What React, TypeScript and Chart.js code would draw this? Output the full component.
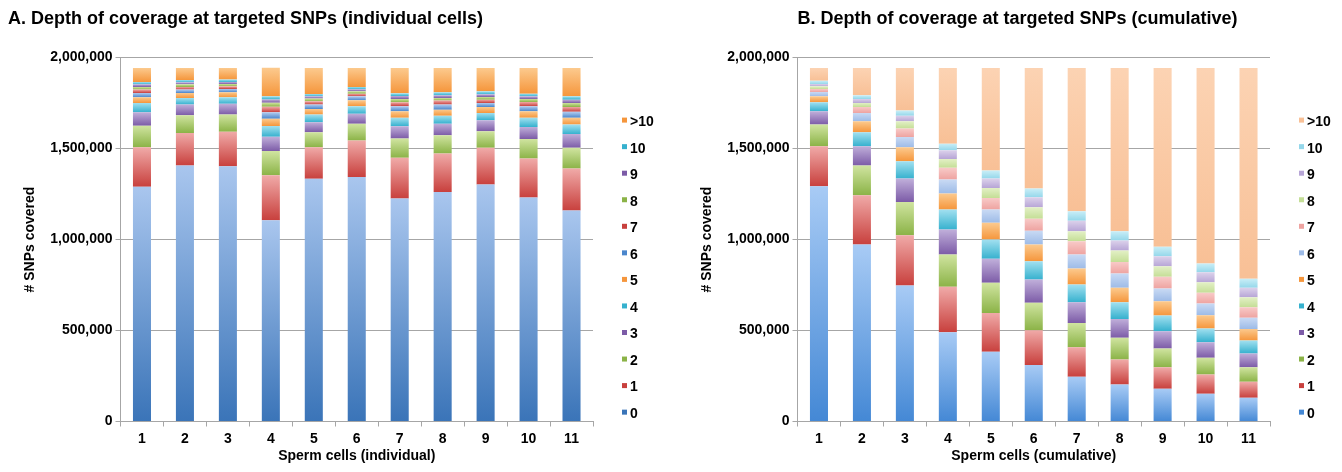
import React, { useEffect, useRef } from "react";
import { Chart, registerables } from "chart.js";

Chart.register(...registerables);

const FONT = '"Liberation Sans", Arial, Helvetica, sans-serif';

const cells = ["1", "2", "3", "4", "5", "6", "7", "8", "9", "10", "11"];
const depthLabels = ["0", "1", "2", "3", "4", "5", "6", "7", "8", "9", "10", ">10"];
const yTicks = [0, 500000, 1000000, 1500000, 2000000];

// A. individual cells: SNPs covered at each depth
const indD0 = [1290000, 1407000, 1403000, 1106000, 1334000, 1344000, 1225000, 1262000, 1302000, 1231000, 1159000];
const indD1 = [217000, 179000, 189000, 247000, 173000, 200000, 224000, 211000, 202000, 214000, 231000];
const indD2 = [119000, 97000, 95000, 133000, 83000, 93000, 106000, 100000, 91000, 108000, 114000];
const indD3 = [73000, 59000, 59000, 79000, 55000, 54000, 68000, 64000, 61000, 66000, 76000];
const indD4 = [52000, 36000, 36000, 59000, 42000, 42000, 46000, 44000, 40000, 50000, 52000];
const indD5 = [31000, 28000, 28000, 40000, 31000, 32000, 36000, 33000, 33000, 36000, 37000];
const indD6 = [24000, 18000, 18000, 36000, 24000, 22000, 28000, 28000, 22000, 28000, 33000];
const indD7 = [18000, 15000, 14000, 30000, 18000, 15000, 22000, 22000, 18000, 23000, 27000];
const indD8 = [15000, 14000, 13000, 22000, 15000, 13000, 18000, 14000, 15000, 17000, 22000];
const indD9 = [14000, 11000, 11000, 18000, 12000, 11000, 16000, 15000, 14000, 14000, 18000];
const indD10 = [13000, 13000, 13000, 18000, 13000, 13000, 15000, 17000, 17000, 15000, 18000];
const indGt10 = [77000, 66000, 64000, 156000, 143000, 104000, 139000, 133000, 128000, 141000, 156000];

// B. cumulative
const cumD0 = [1293000, 973000, 747000, 491000, 383000, 311000, 246000, 203000, 180000, 152000, 130000];
const cumD1 = [220000, 271000, 277000, 249000, 214000, 191000, 162000, 138000, 118000, 106000, 88000];
const cumD2 = [119000, 163000, 183000, 178000, 165000, 150000, 134000, 119000, 103000, 92000, 80000];
const cumD3 = [73000, 106000, 128000, 137000, 132000, 128000, 113000, 104000, 95000, 86000, 76000];
const cumD4 = [50000, 77000, 95000, 110000, 106000, 101000, 98000, 91000, 86000, 75000, 71000];
const cumD5 = [32000, 60000, 77000, 88000, 92000, 92000, 88000, 80000, 79000, 73000, 64000];
const cumD6 = [24000, 46000, 57000, 77000, 73000, 76000, 77000, 78000, 70000, 64000, 61000];
const cumD7 = [17000, 33000, 46000, 64000, 64000, 66000, 73000, 64000, 64000, 59000, 58000];
const cumD8 = [14000, 22000, 40000, 49000, 55000, 62000, 55000, 63000, 58000, 58000, 55000];
const cumD9 = [13000, 22000, 31000, 48000, 51000, 55000, 58000, 55000, 55000, 55000, 52000];
const cumD10 = [18000, 20000, 28000, 36000, 44000, 48000, 52000, 51000, 52000, 48000, 49000];
const cumGt10 = [70000, 150000, 234000, 416000, 564000, 663000, 787000, 897000, 983000, 1075000, 1159000];

const indSeries = [indD0, indD1, indD2, indD3, indD4, indD5, indD6, indD7, indD8, indD9, indD10, indGt10];
const cumSeries = [cumD0, cumD1, cumD2, cumD3, cumD4, cumD5, cumD6, cumD7, cumD8, cumD9, cumD10, cumGt10];

// [light top, dark bottom]
const strongRest: [string, string][] = [
  ["#f0aaa8", "#c8403d"],
  ["#d0e4a0", "#8bb347"],
  ["#c0afda", "#7c5ba7"],
  ["#a2e0f0", "#36b1ce"],
  ["#fcca8e", "#f5963c"],
];
const blueInd: [string, string] = ["#a9c6ee", "#3a74b8"];
const blueCum: [string, string] = ["#a8cbf5", "#4488d5"];
const pale: [string, string][] = [
  ["#c9daf4", "#9dbbe7"],
  ["#f8cac8", "#eea3a0"],
  ["#e3f0c6", "#c4de96"],
  ["#dcd2eb", "#b7a5d6"],
  ["#c9eef7", "#94d7ea"],
  ["#fcd3b3", "#f8c096"],
];
const indColors: [string, string][] = [blueInd, ...strongRest, ["#b3cdf0", "#4a86cc"], ...strongRest];
const cumColors: [string, string][] = [blueCum, ...strongRest, ...pale];

function gradient(light: string, dark: string) {
  return (ctx: any) => {
    const chart = ctx.chart;
    const y = chart.scales && chart.scales.y;
    if (!y || ctx.type !== "data") return dark;
    const ds = chart.data.datasets;
    const i = ctx.dataIndex;
    let base = 0;
    for (let d = 0; d < ctx.datasetIndex; d++) base += Number(ds[d].data[i]) || 0;
    const v = Number(ds[ctx.datasetIndex].data[i]) || 0;
    const top = y.getPixelForValue(base + v);
    const bottom = y.getPixelForValue(base);
    if (!isFinite(top) || !isFinite(bottom) || Math.abs(bottom - top) < 0.5) return dark;
    const g = chart.ctx.createLinearGradient(0, top, 0, bottom);
    g.addColorStop(0, light);
    g.addColorStop(1, dark);
    return g;
  };
}

const sideLegend = {
  id: "sideLegend",
  afterDraw(chart: any, _args: any, opts: any) {
    const { ctx, chartArea } = chart;
    const ds = chart.data.datasets;
    const n = ds.length;
    ctx.save();
    ctx.font = `bold 14px ${FONT}`;
    ctx.textBaseline = "middle";
    ctx.textAlign = "left";
    for (let k = 0; k < n; k++) {
      const idx = n - 1 - k;
      const y = chartArea.top + 64.5 + k * 26.55;
      ctx.fillStyle = opts.colors[idx];
      ctx.fillRect(chartArea.right + 29, y - 4.5, 5, 5);
      ctx.fillStyle = "#000";
      ctx.fillText(ds[idx].label, chartArea.right + 37, y);
    }
    ctx.restore();
  },
};

function makeConfig(title: string, xTitle: string, series: number[][], colors: [string, string][], fullTitle: boolean): any {
  return {
    type: "bar",
    data: {
      labels: cells,
      datasets: series.map((data, k) => ({
        label: depthLabels[k],
        data,
        backgroundColor: gradient(colors[k][0], colors[k][1]),
        borderWidth: 0,
        barPercentage: 0.42,
        categoryPercentage: 1,
      })),
    },
    plugins: [sideLegend],
    options: {
      responsive: false,
      animation: false,
      layout: { padding: { left: 8, right: 72, top: 0, bottom: 0 } },
      plugins: {
        legend: { display: false },
        tooltip: { enabled: false },
        title: {
          display: true,
          text: title,
          align: "start",
          fullSize: fullTitle,
          color: "#000",
          font: { size: 18, weight: "bold", family: FONT },
          padding: { top: 8, bottom: 28 },
        },
        sideLegend: { colors: colors.map((c) => c[1]) },
      },
      scales: {
        x: {
          stacked: true,
          afterFit: (s: any) => { s.height = 50.5; },
          grid: { display: true, drawOnChartArea: false, drawTicks: true, tickLength: 5, color: "#a6a6a6", offset: true },
          border: { display: true, color: "#a6a6a6", width: 1 },
          ticks: { color: "#000", font: { size: 14, weight: "bold", family: FONT }, padding: 4, maxRotation: 0 },
          title: {
            display: true,
            text: xTitle,
            color: "#000",
            font: { size: 14, weight: "bold", family: FONT },
            padding: { top: 0, bottom: 7 },
          },
        },
        y: {
          stacked: true,
          min: 0,
          max: 2000000,
          afterFit: (s: any) => { s.width = 112.5; },
          afterBuildTicks: (s: any) => { s.ticks = yTicks.map((v) => ({ value: v })); },
          grid: { color: "#a6a6a6", lineWidth: 1, drawTicks: true, tickLength: 5 },
          border: { display: true, color: "#a6a6a6", width: 1 },
          ticks: {
            color: "#000",
            font: { size: 14, weight: "bold", family: FONT },
            padding: 3,
            callback: (v: any) => Number(v).toLocaleString("en-US"),
          },
          title: {
            display: true,
            text: "# SNPs covered",
            color: "#000",
            font: { size: 14, weight: "bold", family: FONT },
            padding: { top: 14, bottom: 0 },
          },
        },
      },
    },
  };
}

export default function App() {
  const leftRef = useRef<HTMLCanvasElement>(null);
  const rightRef = useRef<HTMLCanvasElement>(null);
  useEffect(() => {
    const c1 = new Chart(
      leftRef.current!,
      makeConfig("A. Depth of coverage at targeted SNPs (individual cells)", "Sperm cells (individual)", indSeries, indColors, true)
    );
    const c2 = new Chart(
      rightRef.current!,
      makeConfig("B. Depth of coverage at targeted SNPs (cumulative)", "Sperm cells (cumulative)", cumSeries, cumColors, false)
    );
    return () => {
      c1.destroy();
      c2.destroy();
    };
  }, []);
  return (
    <div style={{ position: "absolute", left: 0, top: 0, width: 1342, height: 472, background: "#fff", overflow: "hidden" }}>
      <canvas ref={leftRef} width={665} height={472} style={{ position: "absolute", left: 0, top: 0 }} />
      <canvas ref={rightRef} width={665} height={472} style={{ position: "absolute", left: 677, top: 0 }} />
    </div>
  );
}
